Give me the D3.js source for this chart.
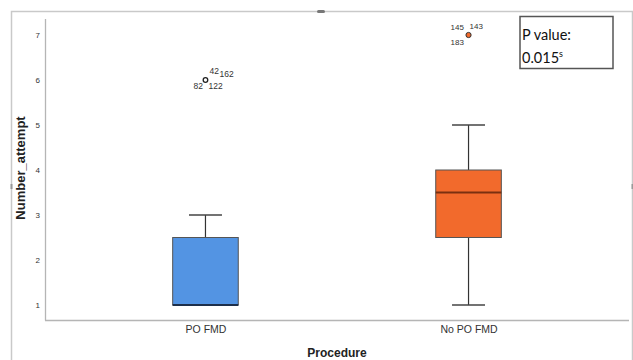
<!DOCTYPE html>
<html><head><meta charset="utf-8">
<script src="https://cdnjs.cloudflare.com/ajax/libs/d3/7.8.5/d3.min.js"></script>
<style>body{margin:0;background:#fff}svg{display:block}</style>
</head><body><svg id="c" width="633" height="360"></svg>
<script>
const categories = ["PO FMD", "No PO FMD"];
const q1 = [1, 2.5];
const medians = [1, 3.5];
const q3 = [2.5, 4];
const whiskLow = [1, 1];
const whiskHigh = [3, 5];
const outlierValues = [6, 7];
const outlierLabels = [["42", "162", "82", "122"], ["145", "143", "183"]];
const yTicks = [1, 2, 3, 4, 5, 6, 7];
const colors = ["#5394E3", "#F26A2C"];

const svg = d3.select("#c");
const x = d3.scalePoint().domain(categories).range([45, 629]).padding(0.61);
const y = d3.scaleLinear().domain([1, 7]).range([305, 35]);
const lf = "Liberation Sans, Arial, sans-serif";

// outer frame
svg.append("path").attr("d", "M11.5,360 V11.5 H632.5 V360").attr("fill", "none").attr("stroke", "#c9c9c9").attr("stroke-width", 1.5);
svg.append("rect").attr("x", 317).attr("y", 10).attr("width", 8).attr("height", 3).attr("rx", 1.5).attr("fill", "#777");
svg.append("rect").attr("x", 10.5).attr("y", 184).attr("width", 2).attr("height", 5).attr("fill", "#999");
svg.append("rect").attr("x", 631.5).attr("y", 184).attr("width", 2).attr("height", 5).attr("fill", "#999");

// axes
const yAxis = d3.axisLeft(y).tickValues(yTicks).tickSize(0).tickPadding(0).tickFormat(d3.format("d"));
const gy = svg.append("g").attr("transform", "translate(40,0)").call(yAxis);
gy.select(".domain").remove();
gy.selectAll("text").attr("font-family", lf).attr("font-size", 8).attr("fill", "#333");
svg.append("line").attr("x1", 45.5).attr("x2", 45.5).attr("y1", 19).attr("y2", 320.5).attr("stroke", "#b5b5b5").attr("stroke-width", 1.3);
svg.append("line").attr("x1", 45).attr("x2", 629).attr("y1", 320.5).attr("y2", 320.5).attr("stroke", "#b5b5b5").attr("stroke-width", 1.3);

const xAxis = d3.axisBottom(x).tickSize(0).tickPadding(0);
const gx = svg.append("g").attr("transform", "translate(0,326)").call(xAxis);
gx.select(".domain").remove();
gx.selectAll("text").attr("font-family", lf).attr("font-size", 10.5).attr("fill", "#333");

// axis titles
svg.append("text").attr("x", 337).attr("y", 357).attr("text-anchor", "middle")
  .attr("font-family", lf).attr("font-weight", "bold").attr("font-size", 12).attr("fill", "#222").text("Procedure");
svg.append("text").attr("transform", "translate(25,168) rotate(-90)").attr("text-anchor", "middle")
  .attr("font-family", lf).attr("font-weight", "bold").attr("font-size", 13).attr("fill", "#222").text("Number_attempt");

// boxes
const bw = 65.6, cw = 33;
categories.forEach((c, i) => {
  const cx = x(c);
  const g = svg.append("g");
  g.append("line").attr("x1", cx).attr("x2", cx).attr("y1", y(whiskHigh[i])).attr("y2", y(q3[i])).attr("stroke", "#333").attr("stroke-width", 1.2);
  g.append("line").attr("x1", cx).attr("x2", cx).attr("y1", y(whiskLow[i])).attr("y2", y(q1[i])).attr("stroke", "#333").attr("stroke-width", 1.2);
  g.append("line").attr("x1", cx - cw / 2).attr("x2", cx + cw / 2).attr("y1", y(whiskHigh[i])).attr("y2", y(whiskHigh[i])).attr("stroke", "#444").attr("stroke-width", 1.5);
  g.append("line").attr("x1", cx - cw / 2).attr("x2", cx + cw / 2).attr("y1", y(whiskLow[i])).attr("y2", y(whiskLow[i])).attr("stroke", "#444").attr("stroke-width", 1.5);
  g.append("rect").attr("x", cx - bw / 2).attr("y", y(q3[i])).attr("width", bw).attr("height", y(q1[i]) - y(q3[i]))
    .attr("fill", colors[i]).attr("stroke", "#555").attr("stroke-width", 1);
  g.append("line").attr("x1", cx - bw / 2).attr("x2", cx + bw / 2).attr("y1", y(medians[i])).attr("y2", y(medians[i]))
    .attr("stroke", i === 0 ? "#1d2f4a" : "#7a3010").attr("stroke-width", 2);
});

// outliers
const o0x = x(categories[0]), o0y = y(outlierValues[0]);
svg.append("circle").attr("cx", o0x).attr("cy", o0y).attr("r", 2.3).attr("fill", "#fff").attr("stroke", "#222").attr("stroke-width", 1.3);
const lab0 = [[o0x + 4, o0y - 6], [o0x + 14, o0y - 3], [o0x - 12, o0y + 9], [o0x + 3, o0y + 9]];
outlierLabels[0].forEach((t, k) => svg.append("text").attr("x", lab0[k][0]).attr("y", lab0[k][1]).attr("font-family", lf).attr("font-size", 8.5).attr("fill", "#333").text(t));

const o1x = x(categories[1]), o1y = y(outlierValues[1]);
svg.append("circle").attr("cx", o1x).attr("cy", o1y).attr("r", 2.6).attr("fill", colors[1]).attr("stroke", "#333").attr("stroke-width", 1);
const lab1 = [[o1x - 18, o1y - 5], [o1x + 1, o1y - 6], [o1x - 18, o1y + 10]];
outlierLabels[1].forEach((t, k) => svg.append("text").attr("x", lab1[k][0]).attr("y", lab1[k][1]).attr("font-family", lf).attr("font-size", 8).attr("fill", "#333").text(t));

// P value box
svg.append("rect").attr("x", 520).attr("y", 16.5).attr("width", 93).attr("height", 52).attr("fill", "#fff").attr("stroke", "#555").attr("stroke-width", 1.5);
svg.append("text").attr("x", 522).attr("y", 40).attr("font-family", "Lato, Carlito, sans-serif").attr("font-size", 14.5).attr("fill", "#111").text("P value:");
const pt = svg.append("text").attr("x", 522).attr("y", 63).attr("font-family", "Lato, Carlito, sans-serif").attr("font-size", 14.5).attr("fill", "#111");
pt.append("tspan").text("0.015");
pt.append("tspan").attr("dy", -6).attr("font-size", 9).text("s");
</script></body></html>
